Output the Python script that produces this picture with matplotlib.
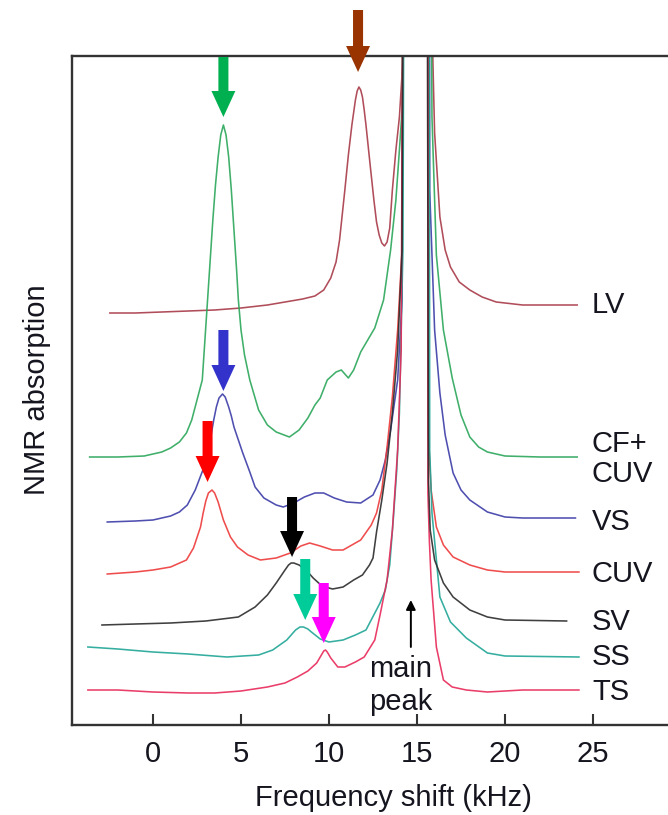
import matplotlib
matplotlib.use("Agg")
import matplotlib.pyplot as plt
from matplotlib.patches import FancyArrow

plt.rcParams["font.family"] = ["Liberation Sans", "DejaVu Sans"]

# ---- spectra: frequency shift (kHz) and stacked NMR absorption (arb. units) ----
lv_khz = [-2.45, -1, 0.5, 2, 3.5, 5, 6.5, 7.5, 8.5, 9.2, 9.7, 10.1, 10.4, 10.6, 10.9, 11.1,
          11.3, 11.5, 11.6, 11.7, 11.8, 11.9, 12.0, 12.1, 12.35, 12.55, 12.7, 12.85, 13.0,
          13.15, 13.3, 13.45, 13.6, 13.8, 14.0, 14.2, 14.25,
          15.85, 15.9, 16.0, 16.3, 16.6, 16.9, 17.4, 18.0, 18.7, 19.5, 21, 22.5, 24.1]
lv_abs = [412, 412, 413, 414, 415, 417, 420, 423, 426, 429, 435, 447, 463, 485, 535, 570,
          600, 625, 634, 638, 635, 628, 615, 600, 558, 525, 503, 490, 482,
          479, 483, 497, 535, 575, 608, 665, 1000,
          1000, 665, 592, 508, 475, 458, 443, 435, 428, 423, 420, 420, 420]

cfcuv_khz = [-3.6, -2, -0.5, 0.5, 1.0, 1.5, 1.9, 2.2, 2.5, 2.8, 3.1, 3.25, 3.4, 3.55, 3.7,
             3.85, 4.0, 4.15, 4.3, 4.45, 4.6, 4.75, 4.85, 5.0, 5.2, 5.5, 6.0, 6.5, 7.0, 7.75,
             8.3, 8.8, 9.2, 9.5, 9.9, 10.4, 10.7, 11.1, 11.4, 11.8, 12.1, 12.6, 13.1, 13.5,
             13.8, 14.0, 14.15, 14.25,
             15.75, 15.85, 16.1, 16.5, 17.0, 17.5, 18.0, 18.5, 19, 20, 22, 24.1]
cfcuv_abs = [268, 268, 269, 273, 277, 283, 292, 305, 325, 345, 425, 465, 505, 540, 568,
             590, 600, 590, 568, 535, 495, 455, 425, 395, 370, 345, 315, 300, 293, 288,
             295, 307, 320, 327, 345, 353, 355, 347, 355, 373, 382, 397, 425, 475,
             525, 575, 615, 1000,
             1000, 608, 470, 395, 347, 310, 288, 278, 273, 269, 268, 268]

vs_khz = [-2.6, -1, 0, 1, 1.5, 1.95, 2.4, 2.9, 3.3, 3.45, 3.6, 3.75, 3.95, 4.1, 4.3, 4.45,
          4.6, 4.85, 5.1, 5.5, 5.8, 6.3, 7.0, 7.4, 8.0, 8.6, 9.2, 9.7, 10.3, 11.0, 11.8, 12.5,
          12.9, 13.2, 13.5, 13.9, 14.15, 14.25,
          15.7, 15.72, 16.0, 16.3, 16.6, 17.05, 17.5, 18.0, 19, 20, 21, 24.0]
vs_abs = [203, 204, 205, 209, 213, 220, 235, 258, 290, 305, 318, 327, 331, 328, 318, 309,
          298, 285, 272, 253, 238, 227, 220, 218, 222, 228, 232, 232, 227, 223, 222, 230,
          245, 265, 295, 345, 425, 1000,
          1000, 535, 395, 332, 290, 252, 235, 225, 213, 208, 207, 207]

cuv_khz = [-2.6, -1, 0, 1, 1.9, 2.3, 2.7, 2.85, 3.0, 3.15, 3.35, 3.5, 3.7, 3.85, 4.0, 4.4,
           4.8, 5.4, 6.1, 7.0, 7.8, 8.4, 8.9, 9.5, 10.2, 10.8, 11.8, 12.4, 12.7, 13.0, 13.3,
           13.6, 13.9, 14.15, 14.25,
           15.62, 15.65, 15.8, 16.1, 16.5, 17.05, 18, 19, 20, 24.2]
cuv_abs = [151, 153, 155, 158, 165, 177, 198, 212, 224, 232, 235, 232, 223, 214, 205, 188,
           178, 170, 165, 167, 172, 179, 182, 179, 175, 175, 185, 200, 212, 235, 278,
           328, 395, 475, 1000,
           1000, 288, 235, 198, 180, 168, 160, 155, 153, 153]

sv_khz = [-2.9, -1, 1, 3, 4.85, 5.8, 6.5, 7.0, 7.5, 7.7, 7.85, 8.0, 8.3, 8.7, 9.1, 9.6,
          10.2, 10.8, 11.4, 11.9, 12.3, 12.5, 12.7, 13.0, 13.3, 13.6, 13.9, 14.15, 14.25,
          15.58, 15.6, 15.65, 15.75, 16.0, 16.5, 17.05, 18, 19, 20, 23.5]
sv_abs = [100, 101, 102, 104, 108, 118, 130, 142, 155, 160, 162, 162, 160, 155, 147, 139,
          136, 138, 145, 150, 160, 167, 193, 225, 262, 312, 375, 475, 1000,
          1000, 652, 245, 195, 165, 142, 128, 115, 108, 105, 104]

ss_khz = [-3.7, -2, 0, 2, 4.2, 6.0, 6.8, 7.6, 8.1, 8.35, 8.55, 8.8, 9.0, 9.5, 10.0, 10.8,
          11.5, 12.1, 12.9, 13.2, 13.45, 13.65, 13.85, 14.0, 14.2, 14.3,
          15.68, 15.72, 15.85, 16.3, 16.9, 17.8, 19, 20, 24.2]
ss_abs = [78, 76, 73, 71, 68, 70, 75, 85, 95, 98, 98, 96, 93, 86, 83, 85,
          90, 95, 122, 135, 160, 205, 255, 312, 475, 1000,
          1000, 275, 212, 128, 103, 87, 72, 69, 68]

ts_khz = [-3.7, -2, 0, 2, 3.5, 5.0, 6.5, 7.5, 8.2, 8.8, 9.3, 9.6, 9.7, 9.8, 9.9, 10.1, 10.5,
          10.9, 11.5, 12.0, 12.6, 12.9, 13.3, 13.6, 13.9, 14.1, 14.25,
          15.6, 15.62, 15.7, 15.8, 16.1, 16.5, 17.0, 17.8, 19, 21, 24.2]
ts_abs = [35, 35, 33, 32, 32, 34, 38, 42, 48, 54, 62, 71, 74, 75, 73, 67, 58,
          58, 63, 68, 85, 110, 145, 195, 275, 375, 1000,
          1000, 232, 185, 145, 78, 45, 38, 35, 33, 35, 35]

sample_names = ["LV", "CF+\nCUV", "VS", "CUV", "SV", "SS", "TS"]
sample_khz = [lv_khz, cfcuv_khz, vs_khz, cuv_khz, sv_khz, ss_khz, ts_khz]
sample_abs = [lv_abs, cfcuv_abs, vs_abs, cuv_abs, sv_abs, ss_abs, ts_abs]
sample_colors = ["#a83a48", "#2aa65a", "#3c3ca8", "#ee3a3a", "#2b2b2b", "#1fa596", "#e8295a"]
label_baseline = [412, 273, 195, 143, 95, 60, 25]

# satellite-peak markers: position (kHz), tail and tip heights, colour
marker_khz = [4.0, 11.65, 4.0, 3.1, 7.9, 8.65, 9.7]
marker_tail = [668, 715, 395, 304, 228, 166, 142]
marker_tip = [608, 653, 334, 243, 168, 105, 82]
marker_colors = ["#00b050", "#993300", "#3333cc", "#ff0000", "#000000", "#00cc99", "#ff00ff"]

xticks = [0, 5, 10, 15, 20, 25]

# ---- figure ----
fig = plt.figure(figsize=(6.68, 8.15), dpi=100)
ax = fig.add_axes([72 / 668, 90 / 815, 596 / 668, 669 / 815])
ax.set_xlim(-4.602, 29.26)
ax.set_ylim(0, 669)

draw_order = [0, 1, 2, 3, 5, 6, 4]
for i in draw_order:
    ax.plot(sample_khz[i], sample_abs[i], color=sample_colors[i], lw=1.15, alpha=0.9,
            solid_joinstyle="round")

for i, name in enumerate(sample_names):
    for j, line in enumerate(name.split("\n")):
        ax.text(24.94, label_baseline[i] - 30 * j, line, fontsize=21, ha="left",
                va="baseline", color="#15151f", clip_on=False)

for x, tail, tip, c in zip(marker_khz, marker_tail, marker_tip, marker_colors):
    ax.add_patch(FancyArrow(x, tail, 0, tip - tail, width=0.57, head_width=1.36,
                            head_length=26, length_includes_head=True, color=c,
                            lw=0, clip_on=False, zorder=5))

# main-peak pointer
ax.annotate("", xy=(14.65, 125), xytext=(14.65, 78),
            arrowprops=dict(arrowstyle="-|>", color="black", lw=1.4, mutation_scale=14,
                            shrinkA=0, shrinkB=0))
ax.text(14.05, 48, "main", fontsize=21, ha="center", va="baseline", color="#15151f")
ax.text(14.05, 15, "peak", fontsize=21, ha="center", va="baseline", color="#15151f")

ax.spines["right"].set_visible(False)
for s in ["left", "top", "bottom"]:
    ax.spines[s].set_linewidth(1.7)
    ax.spines[s].set_color("#333333")
ax.set_yticks([])
ax.set_xticks(xticks)
ax.tick_params(axis="x", direction="in", length=8, width=1.5, color="#333333",
               labelsize=21, pad=11, labelcolor="#15151f")

fig.text(393 / 668, (815 - 806) / 815, "Frequency shift (kHz)", fontsize=21,
         ha="center", va="baseline", color="#15151f")
fig.text(37 / 668, (815 - 390) / 815, "NMR absorption", fontsize=21, rotation=90,
         ha="center", va="center", color="#15151f")

fig.savefig("out.png", dpi=100)
